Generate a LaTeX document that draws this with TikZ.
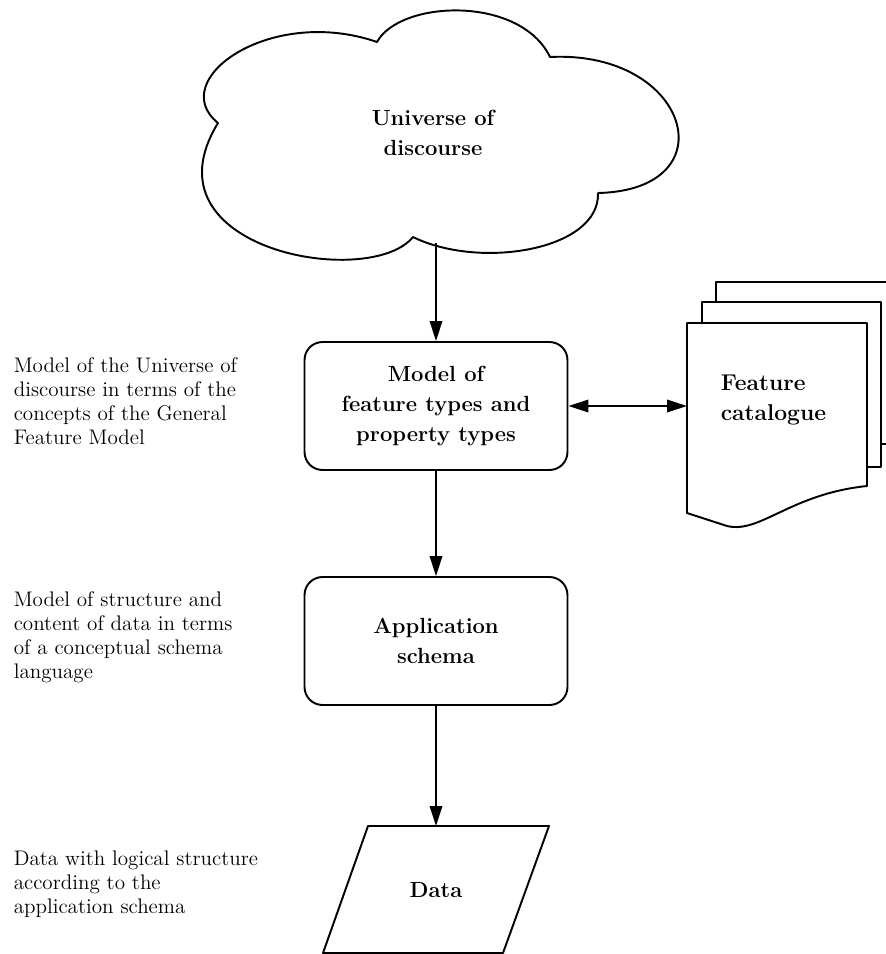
\documentclass[tikz,border=0pt]{standalone}
\usetikzlibrary{arrows.meta,shapes.geometric,positioning}
\begin{document}
\begin{tikzpicture}[x=0.02cm,y=-0.02cm,>={Triangle[length=4mm,width=2.5mm]},line width=1.1pt,line join=round,
 box/.style={draw,rounded corners=0.36cm,minimum width=5.26cm,minimum height=2.56cm,align=center,font=\fontsize{12.5}{17}\selectfont\bfseries},
 head/.style={align=center,font=\fontsize{12.5}{17}\selectfont\bfseries},
 note/.style={anchor=west,align=left,font=\fontsize{12}{13.6}\selectfont},
 page/.style={draw,fill=white}]
\useasboundingbox (0,0) rectangle (886,954);
% cloud
\draw (218,123) .. controls (165,80) and (270,5) .. (377,42)
 .. controls (400,0) and (520,-5) .. (550,57)
 .. controls (690,50) and (730,190) .. (598,193)
 .. controls (600,250) and (480,270) .. (413,237)
 .. controls (370,290) and (140,250) .. cycle;
\node[head] (universe) at (433,133) {Universe of\\discourse};
\coordinate (cloudbot) at (436,243);
\node[box] (model) at (436,406) {Model of\\feature types and\\property types};
\node[box] (app) at (436,641) {Application\\schema};
% data sheet
\draw (368,826) -- (549,826) -- (503,953) -- (323,953) -- cycle;
\node[head] (data) at (436,890) {Data};
\coordinate (datatop) at (436,826);
% catalogue pages
\draw[page] (716,282) rectangle (900,444);
\draw[page] (702,302) rectangle (881,467);
\draw[page] (687,323) -- (867,323) -- (867,486) .. controls (790,494) and (760,534) .. (727,526) -- (687,513) -- cycle;
\node[anchor=west,align=left,font=\fontsize{13}{17}\selectfont\bfseries] (cat) at (714,400) {Feature\\catalogue};
\coordinate (catl) at (687,406);
\draw[->] (cloudbot) -- (model);
\draw[<->] (model) -- (catl);
\draw[->] (model) -- (app);
\draw[->] (app) -- (datatop);
\node[note] (n1) at (7,401) {Model of the Universe of\\discourse in terms of the\\concepts of the General\\Feature Model};
\node[note] (n2) at (7,637) {Model of structure and\\content of data in terms\\of a conceptual schema\\language};
\node[note] (n3) at (7,884) {Data with logical structure\\according to the\\application schema};
\end{tikzpicture}
\end{document}
